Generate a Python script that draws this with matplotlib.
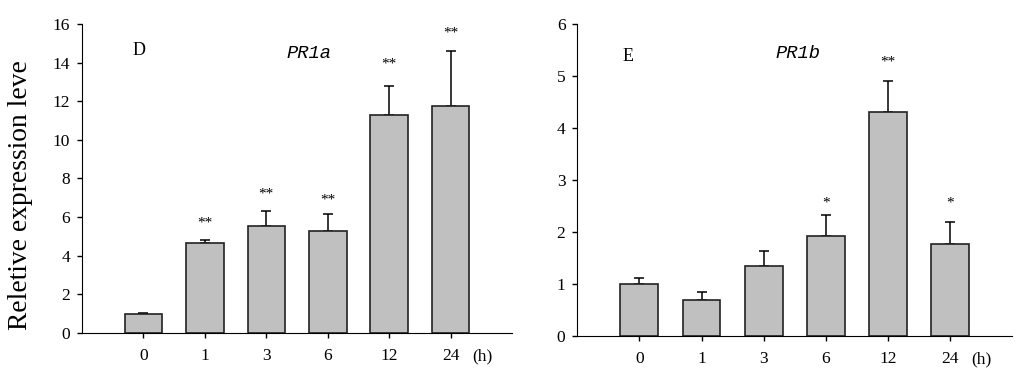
import numpy as np
import matplotlib
matplotlib.use("Agg")
import matplotlib.pyplot as plt

hours = ["0", "1", "3", "6", "12", "24"]

pr1a_mean = [0.97, 4.68, 5.52, 5.28, 11.31, 11.76]
pr1a_err = [0.05, 0.15, 0.78, 0.90, 1.48, 2.84]
pr1a_sig = ["", "**", "**", "**", "**", "**"]
pr1a_sig_y = [0, 5.7, 7.2, 6.9, 13.9, 15.55]

pr1b_mean = [1.00, 0.69, 1.34, 1.91, 4.30, 1.77]
pr1b_err = [0.12, 0.15, 0.29, 0.41, 0.60, 0.41]
pr1b_sig = ["", "", "", "*", "**", "*"]
pr1b_sig_y = [0, 0, 0, 2.56, 5.26, 2.55]

plt.rcParams['font.family'] = ['Liberation Serif', 'DejaVu Serif']

fig = plt.figure(figsize=(10.24, 3.82), dpi=100)
axL = fig.add_axes([0.0801, 0.1283, 0.42, 0.809])
axR = fig.add_axes([0.5638, 0.1212, 0.4245, 0.816])

x = np.arange(len(hours))
tick_len = 3.6
tick_pad = 7.5


def draw(ax, mean, err, sig, sig_y, ymax, letter, letter_xy, gene, gene_xy):
    ax.bar(x, mean, width=0.61, color='#c0c0c0', edgecolor='#222222', linewidth=1.2, zorder=2)
    ax.errorbar(x, mean, yerr=[np.zeros(len(err)), err], fmt='none', ecolor='black',
                elinewidth=1.1, capsize=3.5, capthick=1.1, zorder=1)
    for xi, s, sy in zip(x, sig, sig_y):
        if s:
            ax.text(xi, sy, s, ha='center', va='center', fontsize=11)
    ax.set_xlim(-1, 6)
    ax.set_ylim(0, ymax)
    ax.set_xticks(x)
    ax.set_xticklabels(hours, fontsize=12.5)
    ax.annotate("(h)", xy=(5.51, 0), xycoords='data', xytext=(0, -(tick_len + tick_pad)),
                textcoords='offset points', ha='center', va='top', fontsize=12.5,
                annotation_clip=False)
    ax.spines['top'].set_visible(False)
    ax.spines['right'].set_visible(False)
    ax.tick_params(direction='out', length=tick_len, width=1, labelsize=12.5)
    ax.tick_params(axis='x', pad=tick_pad)
    ax.tick_params(axis='y', pad=5)
    ax.text(letter_xy[0], letter_xy[1], letter, ha='center', va='center', fontsize=13)
    ax.text(gene_xy[0], gene_xy[1], gene, ha='center', va='center', fontsize=13.5,
            style='italic', family='Liberation Mono')


draw(axL, pr1a_mean, pr1a_err, pr1a_sig, pr1a_sig_y, 16, "D", (-0.08, 14.6), "PR1a", (2.7, 14.45))
axL.set_yticks(np.arange(0, 17, 2))
axL.set_ylabel("Reletive expression leve", fontsize=19.8)
axL.yaxis.set_label_coords(-0.114, 0.445)

draw(axR, pr1b_mean, pr1b_err, pr1b_sig, pr1b_sig_y, 6, "E", (-0.18, 5.37), "PR1b", (2.56, 5.44))
axR.set_yticks(np.arange(0, 7, 1))

fig.savefig("out.png", dpi=100)
